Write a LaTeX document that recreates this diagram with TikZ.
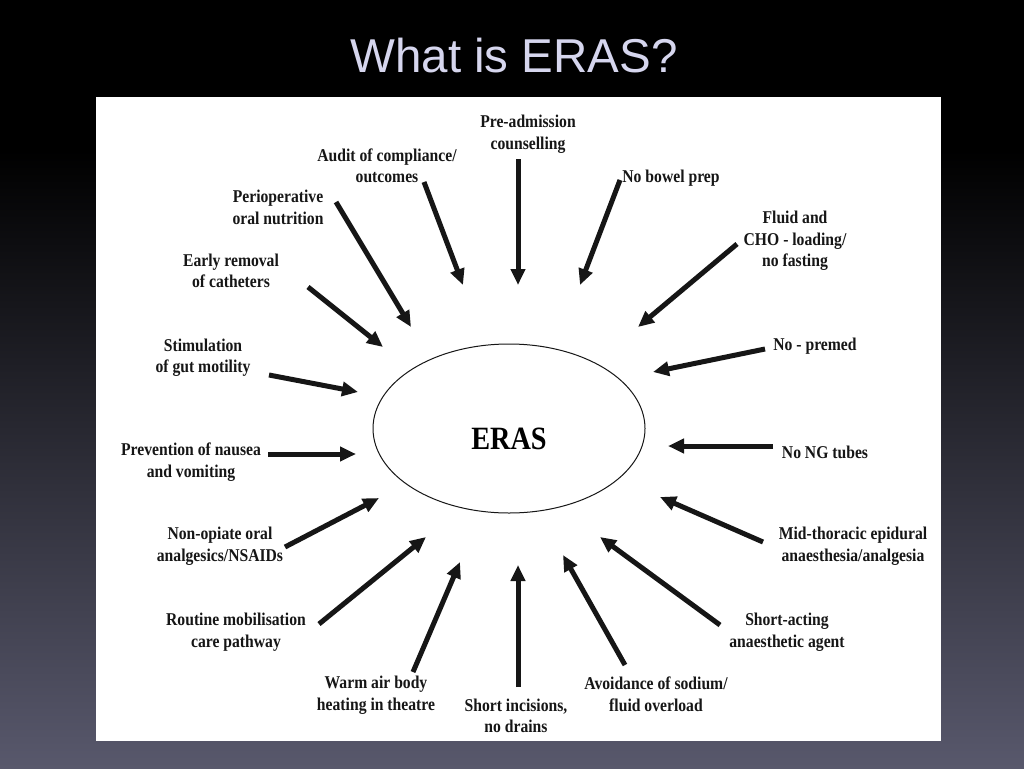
\documentclass[tikz,border=0pt]{standalone}
\usepackage{fontspec}
\setmainfont{Liberation Serif}[FakeStretch=0.87]
\newfontfamily\titlefont{Liberation Sans}
\usetikzlibrary{arrows.meta,shapes.geometric}
\definecolor{titlegray}{RGB}{214,214,238}
\definecolor{bgmid}{RGB}{26,26,46}
\definecolor{bgbot}{RGB}{88,88,108}
\definecolor{ink}{RGB}{22,22,22}

\begin{document}
\begin{tikzpicture}[
    x=1pt, y=-1pt, % pixel grid, y going down
    factor/.style={align=center, inner sep=0pt, text=ink, font=\bfseries\fontsize{18}{21.5}\selectfont},
    hub/.style={ellipse, draw=ink, line width=1pt, minimum width=272pt, minimum height=169pt, text height=42pt, text depth=0pt, font=\bfseries\fontsize{32.5}{34}\selectfont},
    line/.style={draw=ink, line width=5pt, -{Triangle[length=16pt,width=14pt]}}
  ]
    % Slide background and white panel
    \useasboundingbox (0,0) rectangle (1024,768);
    \fill[black] (0,0) rectangle (1024,768);
    \shade[top color=black, middle color=bgmid, bottom color=bgbot] (0,150) rectangle (1024,768);
    \fill[white] (96,97) rectangle (941,741);

    \node (title) [font=\titlefont\fontsize{47.5}{50}\selectfont, text=titlegray] at (514,56) {What is ERAS?};

    % Centre
    \node (eras) [hub] at (509,428.5) {ERAS};

    % Labels, clockwise from the top
    \node (preadm) [factor] at (528,134) {Pre-admission\\counselling};
    \node (bowel) [factor] at (671,178) {No bowel prep};
    \node (fluid) [factor] at (795,241) {Fluid and\\CHO - loading/\\no fasting};
    \node (premed) [factor] at (815,346) {No - premed};
    \node (ngtube) [factor] at (825,452) {No NG tubes};
    \node (epidural) [factor] at (853,546) {Mid-thoracic epidural\\anaesthesia/analgesia};
    \node (agent) [factor] at (787,632) {Short-acting\\anaesthetic agent};
    \node (sodium) [factor] at (656,694.5) {Avoidance of sodium/\\fluid overload};
    \node (incision) [factor] at (516,716) {Short incisions,\\no drains};
    \node (warm) [factor] at (376,695) {Warm air body\\heating in theatre};
    \node (mobil) [factor] at (236,632) {Routine mobilisation\\care pathway};
    \node (nsaid) [factor] at (220,546) {Non-opiate oral\\analgesics/NSAIDs};
    \node (nausea) [factor] at (191,462) {Prevention of nausea\\and vomiting};
    \node (gut) [factor] at (203,357.5) {Stimulation\\of gut motility};
    \node (cath) [factor] at (231,271) {Early removal\\of catheters};
    \node (nutri) [factor] at (278,207.5) {Perioperative\\oral nutrition};
    \node (audit) [factor] at (387,166) {Audit of compliance/\\outcomes};

    % Arrow ends
    \coordinate (preadm-a) at (518,159);   \coordinate (preadm-b) at (518,285);
    \coordinate (bowel-a) at (620,180);    \coordinate (bowel-b) at (580,285);
    \coordinate (fluid-a) at (737,244);    \coordinate (fluid-b) at (638,327);
    \coordinate (premed-a) at (765,349);   \coordinate (premed-b) at (653,372);
    \coordinate (ngtube-a) at (773,446);   \coordinate (ngtube-b) at (668,446);
    \coordinate (epidural-a) at (763,542); \coordinate (epidural-b) at (660,497);
    \coordinate (agent-a) at (720,625);    \coordinate (agent-b) at (600,537);
    \coordinate (sodium-a) at (625,665);   \coordinate (sodium-b) at (563,555);
    \coordinate (incision-a) at (518,687); \coordinate (incision-b) at (518,565);
    \coordinate (warm-a) at (413,672);     \coordinate (warm-b) at (460,562);
    \coordinate (mobil-a) at (319,624);    \coordinate (mobil-b) at (426,537);
    \coordinate (nsaid-a) at (285,547);    \coordinate (nsaid-b) at (379,498);
    \coordinate (nausea-a) at (268,454);   \coordinate (nausea-b) at (356,454);
    \coordinate (gut-a) at (269,375);      \coordinate (gut-b) at (358,392);
    \coordinate (cath-a) at (308,287);     \coordinate (cath-b) at (383,347);
    \coordinate (nutri-a) at (336,202);    \coordinate (nutri-b) at (411,327);
    \coordinate (audit-a) at (424,182);    \coordinate (audit-b) at (463,285);

    % Arrows towards ERAS
    \foreach \f in {preadm,bowel,fluid,premed,ngtube,epidural,agent,sodium,incision,warm,mobil,nsaid,nausea,gut,cath,nutri,audit}
      \path [line] (\f-a) -- (\f-b);
\end{tikzpicture}
\end{document}
